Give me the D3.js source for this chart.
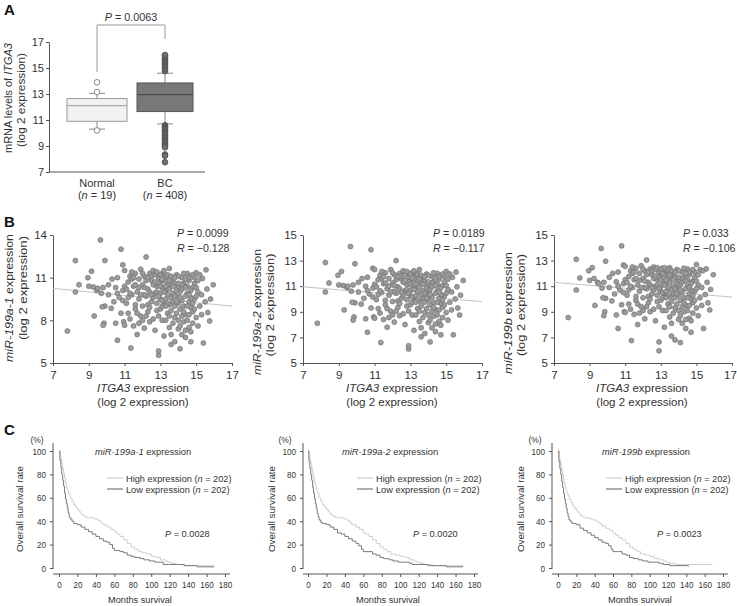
<!DOCTYPE html>
<html>
<head>
<meta charset="utf-8">
<script src="https://cdn.jsdelivr.net/npm/d3@7"></script>
<style>
  body { margin: 0; background: #fff; }
  svg { font-family: "Liberation Sans", Arial, sans-serif; }
</style>
</head>
<body>
<script>
// ---- Panel A: box plot data ----
const boxGroups = ["Normal", "BC"];
const boxN = [19, 408];
const boxQ1 = [10.9, 11.65];
const boxMedian = [12.1, 12.95];
const boxQ3 = [12.65, 13.85];
const whiskLow = [10.3, 10.7];
const whiskHigh = [13.05, 14.6];
const outliersNormal = [13.9, 13.15, 10.2];
const outliersBC = [14.75, 14.9, 15.05, 15.15, 15.25, 15.35, 15.45, 15.55, 15.65, 15.75, 15.85, 15.95, 16.0,
  10.6, 10.5, 10.4, 10.3, 10.2, 10.1, 10.0, 9.9, 9.8, 9.7, 9.6, 9.5, 9.4, 9.3, 9.2, 9.1, 9.0, 8.9, 8.35, 8.25, 7.75];
const yTicksA = [7, 9, 11, 13, 15, 17];

// ---- Panel B: scatter data (ITGA3 vs miR expression) ----
const itga3 = [
  7.8,8.25,8.25,8.45,8.95,9.15,9.0,9.3,9.25,9.45,
  9.65,9.5,9.7,9.8,9.85,9.8,9.9,9.9,9.75,10.1,
  10.1,10.25,10.3,10.4,10.5,10.6,10.5,10.6,10.7,10.8,
  10.9,10.95,11.0,10.8,10.9,11.0,11.1,11.2,11.3,11.35,
  11.3,11.4,11.5,11.5,11.6,11.6,11.7,11.7,11.8,11.8,
  11.9,11.9,12.0,12.0,12.1,12.1,12.2,12.2,12.3,12.3,
  12.4,12.4,12.5,12.5,12.6,12.6,12.7,12.7,12.8,12.8,
  12.9,12.9,12.9,13.0,13.0,13.1,13.1,13.2,13.2,13.3,
  13.3,13.4,13.4,13.5,13.5,13.6,13.6,13.7,13.7,13.8,
  13.8,13.9,13.9,14.0,14.0,14.1,14.1,14.2,14.2,14.3,
  14.3,14.4,14.4,14.5,14.5,14.6,14.6,14.7,14.7,14.8,
  14.8,14.9,14.9,15.0,15.0,15.1,15.2,15.2,15.35,15.4,
  15.5,15.55,15.65,15.75,15.95,15.8,15.6,11.2,11.4,11.6,
  11.8,12.0,12.1,12.2,12.3,12.4,12.5,12.6,12.6,12.7,
  12.8,12.8,12.9,12.9,13.0,13.0,13.0,13.1,13.1,13.2,
  13.2,13.3,13.3,13.4,13.4,13.5,13.5,13.6,13.6,13.7,
  13.7,13.8,13.8,13.9,13.9,14.0,14.0,14.1,14.1,14.2,
  14.2,14.3,14.3,14.4,14.4,14.5,14.5,14.6,14.6,14.7,
  14.7,14.8,14.9,15.0,15.1,15.1,15.3,15.3,11.0,11.3,
  11.5,11.7,11.9,12.1,12.3,12.4,12.5,12.7,12.8,13.0,
  13.1,13.2,13.3,13.4,13.5,13.6,13.7,13.8,13.9,14.0,
  14.1,14.2,14.3,14.4,14.5,14.6,14.7,14.8,14.9,15.0,
  10.6,10.9,11.1,11.2,11.4,11.6,11.8,12.0,12.2,12.9,
  13.1,13.3,13.5,13.6,13.8,14.0,14.2,14.4,14.6,14.8
];
const mir199a1 = [
  7.25,12.2,10.0,10.5,11.0,11.45,10.4,8.3,10.35,10.1,
  13.65,10.25,9.9,10.3,7.8,7.65,12.2,9.0,8.95,9.8,
  10.5,8.85,10.9,9.3,7.8,6.6,10.3,11.0,9.6,13.0,
  11.9,7.9,7.65,8.5,10.1,11.5,9.2,10.7,8.1,6.05,
  11.1,9.8,10.4,7.6,8.8,11.3,10.0,7.0,9.5,10.9,
  8.3,11.6,9.0,10.5,7.45,11.1,12.45,9.7,8.6,10.2,
  11.3,7.9,9.3,10.8,8.1,11.5,9.9,7.3,10.4,8.7,
  5.55,5.85,11.0,9.5,10.7,8.0,11.3,6.9,9.1,10.1,
  11.0,8.5,9.8,11.65,7.5,10.5,6.3,9.3,10.9,8.2,
  6.5,11.2,9.7,7.4,10.3,6.0,8.8,11.0,9.4,7.9,
  10.6,6.8,8.4,11.3,9.9,7.5,10.8,6.5,8.9,10.3,
  7.8,11.0,9.5,11.35,8.2,10.0,11.2,9.0,10.95,6.4,
  9.3,11.55,8.55,7.95,10.5,9.5,10.2,9.6,10.9,9.1,
  10.3,11.3,9.8,10.8,9.1,10.0,11.1,9.6,10.5,11.2,
  9.2,10.0,10.6,8.3,11.2,9.9,8.8,10.3,9.4,10.8,
  10.0,9.5,8.0,10.5,11.2,9.1,10.2,8.7,11.1,9.9,
  7.8,10.6,9.0,10.1,8.5,11.1,9.2,10.0,7.6,8.3,
  10.5,9.0,11.3,9.7,7.3,10.4,8.0,9.3,11.0,10.1,
  7.2,8.6,10.6,9.7,10.8,7.6,9.8,8.4,10.4,9.9,
  11.0,8.5,9.8,10.3,11.0,8.9,9.8,10.7,11.4,10.4,
  9.0,11.5,10.4,9.2,10.8,9.6,10.4,11.0,9.3,10.6,
  9.6,10.2,8.6,10.9,9.0,8.4,9.6,11.2,8.8,10.3,
  9.9,9.4,10.2,8.5,11.4,10.5,7.8,8.0,8.3,9.7,
  10.9,9.0,8.3,7.0,9.7,8.0,7.0,10.3,9.8,9.2
];
const mir199a2 = [
  8.1,12.85,10.55,11.25,11.85,12.15,11.1,9.15,11.05,10.9,
  14.1,11.0,10.6,11.1,8.6,8.35,12.75,9.7,9.75,10.55,
  11.3,9.6,11.6,10.05,8.45,7.4,11.0,11.7,10.4,13.85,
  12.4,8.6,8.5,9.3,10.85,12.3,9.95,11.5,8.9,6.6,
  11.85,10.5,11.2,8.4,9.55,12.05,10.8,7.8,10.3,11.6,
  9.05,12.3,9.8,11.25,8.2,11.9,13.0,10.45,9.35,10.95,
  12.0,8.7,10.05,11.55,8.85,12.2,10.65,8.0,11.15,9.45,
  6.1,6.35,11.75,10.25,11.45,8.75,12.05,7.55,9.85,10.85,
  11.75,9.25,10.55,12.3,8.25,11.25,7.05,10.05,11.65,8.95,
  7.3,11.95,10.45,8.15,11.05,6.65,9.55,11.75,10.15,8.65,
  11.35,7.45,9.15,12.0,10.65,8.25,11.55,7.2,9.65,11.05,
  8.55,11.75,10.25,12.15,8.95,10.75,11.95,9.75,11.7,7.2,
  10.0,12.1,9.3,8.75,11.45,10.3,10.95,10.35,11.6,9.9,
  11.0,12.05,10.6,11.5,9.85,10.8,11.8,10.3,11.3,11.9,
  9.95,10.75,11.35,9.05,11.95,10.65,9.55,11.05,10.15,11.55,
  10.75,10.25,8.75,11.25,11.95,9.85,10.95,9.45,11.85,10.65,
  8.55,11.35,9.75,10.85,9.25,11.85,9.95,10.75,8.35,9.05,
  11.25,9.75,12.05,10.45,8.05,11.15,8.75,10.05,11.75,10.85,
  7.95,9.35,11.35,10.45,11.55,8.35,10.55,9.15,11.15,10.65,
  11.75,9.25,10.55,11.05,11.75,9.65,10.55,11.45,12.15,11.15,
  9.75,12.2,11.15,9.95,11.55,10.35,11.15,11.75,10.05,11.35,
  10.35,10.95,9.35,11.65,9.75,9.15,10.35,11.95,9.55,11.05,
  10.65,10.15,10.95,9.25,12.15,11.25,8.55,8.75,9.05,10.45,
  11.65,9.75,9.05,7.75,10.45,8.75,7.75,11.05,10.55,9.95
];
const mir199b = [
  8.55,13.1,10.7,11.65,12.2,12.45,11.45,9.5,11.6,11.3,
  13.95,11.2,10.85,11.3,9.0,8.7,12.95,10.05,10.1,10.9,
  11.7,9.85,12.0,10.4,8.75,7.7,11.35,12.1,10.7,14.15,
  12.65,9.0,8.95,9.55,11.2,12.55,10.3,11.75,9.2,6.75,
  12.2,10.9,11.5,8.8,9.9,12.4,11.1,8.0,10.6,12.0,
  9.4,12.6,10.1,11.6,8.45,12.2,13.05,10.8,9.7,11.3,
  12.35,9.0,10.4,11.9,9.2,12.5,11.0,8.3,11.5,9.8,
  5.95,6.65,12.1,10.6,11.8,9.1,12.4,7.8,10.2,11.2,
  12.1,9.6,10.9,12.45,8.6,11.6,7.1,10.4,12.0,9.3,
  6.8,12.3,10.8,8.4,11.4,6.6,9.9,12.1,10.5,9.0,
  11.7,7.7,9.5,12.35,11.0,8.5,11.9,7.4,10.0,11.4,
  8.9,12.1,10.6,12.7,9.3,11.1,12.3,10.1,12.2,7.7,
  10.35,12.35,9.7,9.15,11.9,10.75,11.3,10.7,12.0,10.2,
  11.45,12.35,10.9,11.9,10.2,11.1,12.2,10.7,11.6,12.3,
  10.3,11.1,11.7,9.4,12.3,11.0,9.9,11.4,10.5,11.9,
  11.1,10.6,9.1,11.6,12.3,10.2,11.3,9.8,12.2,11.0,
  8.9,11.7,10.1,11.2,9.6,12.2,10.3,11.1,8.7,9.4,
  11.6,10.1,12.4,10.8,8.4,11.5,9.1,10.4,12.1,11.2,
  8.3,9.7,11.7,10.8,11.9,8.7,10.9,9.5,11.5,11.0,
  12.1,9.6,10.9,11.4,12.1,10.0,10.9,11.8,12.45,11.5,
  10.1,12.45,11.5,10.3,11.9,10.7,11.5,12.1,10.4,11.7,
  10.7,11.3,9.7,12.0,10.1,9.5,10.7,12.3,9.9,11.4,
  11.0,10.5,11.3,9.6,12.5,11.6,8.9,9.1,9.4,10.8,
  12.0,10.1,9.4,8.1,10.8,9.1,8.1,11.4,10.9,10.3
];
const fit199a1 = [[7, 10.25], [17, 9.0]];
const fit199a2 = [[7, 10.95], [17, 9.8]];
const fit199b = [[7, 11.3], [17, 10.15]];
const statsB = [["P = 0.0099", "R = \u22120.128"], ["P = 0.0189", "R = \u22120.117"], ["P = 0.033", "R = \u22120.106"]];
const mirNames = ["miR-199a-1", "miR-199a-2", "miR-199b"];
const xTicksB = [7, 9, 11, 13, 15, 17];

// ---- Panel C: Kaplan-Meier curves [months, % surviving] ----
const high199a1 = [[0,100],[1,97],[2,93],[3,89],[4,85],[5,81],[6,77],[7,73],[8,69],[9,66],[10,64],[12,60],[14,57],[16,54],[18,52],[20,50],[22,48],[24,46],[26,45],[28,44],[30,43],[34,43],[38,42],[42,41],[44,40],[46,38],[48,37],[52,35],[56,33],[60,31],[63,29],[66,27],[70,24],[74,21],[78,18],[82,16],[86,14],[90,13],[95,12],[100,10],[105,9],[110,7],[115,6],[118,5],[122,4],[126,3],[135,2],[150,2],[168,1]];
const low199a1 = [[0,100],[1,92],[2,86],[3,80],[4,75],[5,70],[6,64],[7,59],[8,55],[9,51],[10,47],[11,44],[12,42],[14,40],[16,38],[20,37],[24,35],[28,33],[32,31],[36,29],[40,27],[44,25],[48,23],[52,22],[55,20],[58,17],[60,15],[66,14],[70,13],[74,11],[78,10],[82,9],[88,8],[92,7],[98,6],[104,5],[110,5],[113,3],[120,3],[130,3],[136,2],[150,1],[168,1]];
const high199a2 = [[0,100],[1,97],[2,93],[3,89],[4,85],[5,81],[6,77],[7,73],[8,70],[9,67],[10,64],[12,60],[14,57],[16,54],[18,52],[20,50],[22,48],[24,46],[26,45],[28,44],[30,43],[34,43],[38,42],[42,41],[44,40],[46,38],[48,37],[52,35],[56,33],[60,30],[63,29],[66,27],[70,24],[74,21],[78,18],[82,16],[86,14],[90,12],[95,11],[100,10],[105,9],[110,7],[115,6],[118,5],[122,4],[126,3],[135,2],[150,2],[168,1]];
const low199a2 = [[0,100],[1,91],[2,85],[3,80],[4,75],[5,69],[6,64],[7,59],[8,55],[9,51],[10,47],[11,44],[12,41],[14,39],[16,38],[20,37],[24,35],[28,33],[32,30],[36,29],[40,27],[44,25],[48,23],[52,21],[55,19],[58,16],[60,14],[66,14],[70,12],[74,11],[78,9],[82,8],[88,7],[92,6],[98,5],[104,5],[110,4],[113,3],[120,3],[130,2],[140,2],[150,1],[168,1]];
const high199b = [[0,100],[1,96],[2,92],[3,88],[4,84],[5,80],[6,76],[7,72],[8,69],[9,66],[10,63],[12,59],[14,56],[16,53],[18,51],[20,49],[22,47],[24,45],[26,44],[28,43],[30,43],[34,42],[38,41],[42,40],[44,39],[46,38],[48,36],[52,34],[56,32],[60,30],[63,28],[66,26],[70,24],[74,21],[78,18],[82,16],[86,14],[90,12],[95,11],[100,10],[105,8],[110,7],[115,6],[118,5],[122,4],[128,3],[140,3],[168,2]];
const low199b = [[0,100],[1,91],[2,85],[3,80],[4,74],[5,69],[6,64],[7,59],[8,55],[9,51],[10,47],[11,44],[12,41],[14,39],[16,38],[20,37],[24,34],[28,32],[32,30],[36,28],[40,26],[44,24],[48,22],[52,21],[55,19],[58,16],[60,14],[66,14],[70,12],[74,11],[78,9],[82,8],[88,7],[92,6],[98,5],[104,5],[110,4],[115,3],[122,2],[130,2],[142,1]];
const pValuesC = ["P = 0.0028", "P = 0.0020", "P = 0.0023"];
const xTicksC = [0, 20, 40, 60, 80, 100, 120, 140, 160, 180];
const yTicksC = [0, 20, 40, 60, 80, 100];

const ink = "#333";
const axisCol = "#555";

const svg = d3.select("body").append("svg")
  .attr("width", 737)
  .attr("height", 606);

function styleAxis(g) {
  g.selectAll("path, line").attr("stroke", axisCol);
  g.selectAll("text").attr("fill", ink).attr("font-family", null);
}

// squeeze or stretch text along its baseline
function fitLen(sel, len) {
  sel.attr("textLength", len).attr("lengthAdjust", "spacingAndGlyphs");
}
function condense(sel, f) {
  sel.each(function () {
    const L = this.getComputedTextLength();
    d3.select(this).attr("textLength", L * f).attr("lengthAdjust", "spacingAndGlyphs");
  });
}

// rotated two-line axis title, first line with an italic part
function rotTitle(x1, x2, cy1, cy2, len1, len2, italicPart, before, after) {
  const t = svg.append("text")
    .attr("transform", `translate(${x1},${cy1}) rotate(-90)`)
    .attr("text-anchor", "middle")
    .attr("font-size", 11)
    .attr("fill", ink);
  if (before) t.append("tspan").text(before);
  t.append("tspan").attr("font-style", "italic").text(italicPart);
  t.append("tspan").text(after);
  fitLen(t, len1);
  const t2 = svg.append("text")
    .attr("transform", `translate(${x2},${cy2}) rotate(-90)`)
    .attr("text-anchor", "middle")
    .attr("font-size", 11)
    .attr("fill", ink)
    .text("(log 2 expression)");
  fitLen(t2, len2);
}

function panelLetter(txt, y) {
  svg.append("text").text(txt)
    .attr("x", 4).attr("y", y)
    .attr("font-size", 15).attr("font-weight", "bold").attr("fill", "#111");
}

// ================= Panel A =================
panelLetter("A", 15);
const yA = d3.scaleLinear().domain([7, 17]).range([172, 42]);
const xA = d3.scalePoint().domain(boxGroups).range([97, 165]);
const boxW = [60, 56];

svg.append("g")
  .attr("transform", "translate(49,0)")
  .call(d3.axisLeft(yA).tickValues(yTicksA).tickSizeInner(3).tickSizeOuter(0).tickPadding(2))
  .attr("font-size", 11)
  .call(styleAxis);
svg.append("line").attr("x1", 49).attr("x2", 205).attr("y1", 172).attr("y2", 172).attr("stroke", axisCol);

rotTitle(12, 25, 98, 100, 110, 94, "ITGA3", "mRNA levels of ", "");

boxGroups.forEach((gname, i) => {
  const cx = xA(gname);
  const w = boxW[i];
  const lineCol = i === 0 ? "#999" : "#555";
  // whiskers
  svg.append("line").attr("x1", cx).attr("x2", cx)
    .attr("y1", yA(whiskLow[i])).attr("y2", yA(boxQ1[i])).attr("stroke", "#888");
  svg.append("line").attr("x1", cx).attr("x2", cx)
    .attr("y1", yA(boxQ3[i])).attr("y2", yA(whiskHigh[i])).attr("stroke", "#888");
  [whiskLow[i], whiskHigh[i]].forEach(v => {
    svg.append("line").attr("x1", cx - 8).attr("x2", cx + 8)
      .attr("y1", yA(v)).attr("y2", yA(v)).attr("stroke", "#888");
  });
  svg.append("rect")
    .attr("x", cx - w / 2).attr("width", w)
    .attr("y", yA(boxQ3[i])).attr("height", yA(boxQ1[i]) - yA(boxQ3[i]))
    .attr("fill", i === 0 ? "#f2f2f2" : "#787878")
    .attr("stroke", lineCol);
  svg.append("line").attr("x1", cx - w / 2).attr("x2", cx + w / 2)
    .attr("y1", yA(boxMedian[i])).attr("y2", yA(boxMedian[i]))
    .attr("stroke", i === 0 ? "#999" : "#444");
  // category labels
  svg.append("text").text(gname)
    .attr("x", cx).attr("y", 187).attr("text-anchor", "middle")
    .attr("font-size", 11).attr("fill", ink);
  const nl = svg.append("text").attr("x", cx).attr("y", 199)
    .attr("text-anchor", "middle").attr("font-size", 11).attr("fill", ink);
  nl.append("tspan").text("(");
  nl.append("tspan").attr("font-style", "italic").text("n");
  nl.append("tspan").text(" = " + boxN[i] + ")");
});

svg.selectAll(".outN").data(outliersNormal).enter().append("circle")
  .attr("cx", xA("Normal")).attr("cy", d => yA(d)).attr("r", 2.8)
  .attr("fill", "#fff").attr("stroke", "#888");
svg.selectAll(".outBC").data(outliersBC).enter().append("circle")
  .attr("cx", xA("BC")).attr("cy", d => yA(d)).attr("r", 2.8)
  .attr("fill", "#6f6f6f").attr("stroke", "#555");

// significance bracket
svg.append("path")
  .attr("d", `M${xA("Normal")},72 V25 H${xA("BC")} V39`)
  .attr("fill", "none").attr("stroke", "#999");
const pA = svg.append("text").attr("x", 131).attr("y", 21)
  .attr("text-anchor", "middle").attr("font-size", 10.8).attr("fill", ink);
pA.append("tspan").attr("font-style", "italic").text("P");
pA.append("tspan").text(" = 0.0063");

// ================= Panel B =================
panelLetter("B", 227);
const scatterLayout = [
  { x0: 53, x1: 232, yMax: 14, yTicks: [5, 8, 11, 14], ys: mir199a1, fit: fit199a1, tx: [13, 27], cy: [298, 288], len: [128, 104], statX: 177, xTitle: 143 },
  { x0: 303, x1: 482, yMax: 15, yTicks: [5, 7, 9, 11, 13, 15], ys: mir199a2, fit: fit199a2, tx: [261, 274], cy: [312, 305], len: [126, 103], statX: 433, xTitle: 392 },
  { x0: 554, x1: 732, yMax: 15, yTicks: [5, 7, 9, 11, 13, 15], ys: mir199b, fit: fit199b, tx: [512, 525], cy: [313, 305], len: [122, 102], statX: 683, xTitle: 642 }
];

scatterLayout.forEach((p, k) => {
  const x = d3.scaleLinear().domain([7, 17]).range([p.x0, p.x1]);
  const y = d3.scaleLinear().domain([5, p.yMax]).range([363, 235]);

  svg.append("g").attr("transform", `translate(${p.x0},0)`)
    .call(d3.axisLeft(y).tickValues(p.yTicks).tickSizeInner(3).tickSizeOuter(0).tickPadding(3))
    .attr("font-size", 11.5).call(styleAxis);
  const xg = svg.append("g").attr("transform", "translate(0,363)")
    .call(d3.axisBottom(x).tickValues(xTicksB).tickSizeInner(3).tickSizeOuter(0).tickPadding(5))
    .attr("font-size", 11.5).call(styleAxis);
  // keep the last label inside the page on the right-hand panel
  if (p.x1 > 720) xg.selectAll(".tick text").filter(d => d === 17).attr("dx", "-2");

  svg.append("line")
    .attr("x1", x(p.fit[0][0])).attr("y1", y(p.fit[0][1]))
    .attr("x2", x(p.fit[1][0])).attr("y2", y(p.fit[1][1]))
    .attr("stroke", "#c4c4c4").attr("stroke-width", 1);

  svg.append("g").selectAll("circle")
    .data(itga3.map((v, i) => [v, p.ys[i]]))
    .enter().append("circle")
    .attr("cx", d => x(d[0]))
    .attr("cy", d => y(d[1]))
    .attr("r", 2.5)
    .attr("fill", "#9c9c9c")
    .attr("stroke", "#6a6a6a")
    .attr("stroke-width", 0.6);

  statsB[k].forEach((s, j) => {
    const t = svg.append("text").attr("x", p.statX).attr("y", 237 + j * 15)
      .attr("font-size", 10.6).attr("fill", ink);
    t.append("tspan").attr("font-style", "italic").text(s.slice(0, 1));
    t.append("tspan").text(s.slice(1));
  });

  rotTitle(p.tx[0], p.tx[1], p.cy[0], p.cy[1], p.len[0], p.len[1], mirNames[k], "", " expression");

  const xt = svg.append("text").attr("x", p.xTitle).attr("y", 392)
    .attr("text-anchor", "middle").attr("font-size", 11.5).attr("fill", ink);
  xt.append("tspan").attr("font-style", "italic").text("ITGA3");
  xt.append("tspan").text(" expression");
  svg.append("text").attr("x", p.xTitle).attr("y", 406)
    .attr("text-anchor", "middle").attr("font-size", 11.5).attr("fill", ink)
    .text("(log 2 expression)");
});

// ================= Panel C =================
panelLetter("C", 435);
const survLayout = [
  { ax: 53, x0: 59, x1: 225, xEnd: 230, high: high199a1, low: low199a1, titleX: 95, legX: 107, pX: 165, pctX: 37, ttlX: 23, msX: 140 },
  { ax: 303, x0: 308, x1: 474, xEnd: 478, high: high199a2, low: low199a2, titleX: 342, legX: 357, pX: 413, pctX: 285, ttlX: 275, msX: 388 },
  { ax: 552, x0: 558, x1: 723, xEnd: 728, high: high199b, low: low199b, titleX: 602, legX: 606, pX: 657, pctX: 535, ttlX: 524, msX: 640 }
];

survLayout.forEach((p, k) => {
  const x = d3.scaleLinear().domain([0, 180]).range([p.x0, p.x1]);
  const y = d3.scaleLinear().domain([0, 100]).range([568, 451]);

  const ya = svg.append("g").attr("transform", `translate(${p.ax},0)`)
    .call(d3.axisLeft(y).tickValues(yTicksC).tickSizeInner(3).tickSizeOuter(0).tickPadding(4))
    .attr("font-size", 9.5).call(styleAxis);
  ya.select(".domain").remove();
  condense(ya.selectAll("text"), 0.85);
  svg.append("line").attr("x1", p.ax).attr("x2", p.ax).attr("y1", 443).attr("y2", 569).attr("stroke", axisCol);

  const xa = svg.append("g").attr("transform", "translate(0,574)")
    .call(d3.axisBottom(x).tickValues(xTicksC).tickSizeInner(3).tickSizeOuter(0).tickPadding(4))
    .attr("font-size", 9.5).call(styleAxis);
  xa.select(".domain").remove();
  condense(xa.selectAll("text"), 0.85);
  svg.append("line").attr("x1", p.ax).attr("x2", p.xEnd).attr("y1", 574).attr("y2", 574).attr("stroke", axisCol);

  const line = d3.line().x(d => x(d[0])).y(d => y(d[1])).curve(d3.curveStepAfter);
  svg.append("path").datum(p.high).attr("d", line)
    .attr("fill", "none").attr("stroke", "#cfcfcf").attr("stroke-width", 1);
  svg.append("path").datum(p.low).attr("d", line)
    .attr("fill", "none").attr("stroke", "#7a7a7a").attr("stroke-width", 1);

  svg.append("text").text("(%)").attr("x", p.pctX).attr("y", 443)
    .attr("text-anchor", "middle").attr("font-size", 8.5).attr("fill", ink);
  const ost = svg.append("text").text("Overall survival rate")
    .attr("transform", `translate(${p.ttlX},509) rotate(-90)`)
    .attr("text-anchor", "middle").attr("font-size", 9.8).attr("fill", ink);
  fitLen(ost, 86);
  svg.append("text").text("Months survival")
    .attr("x", p.msX).attr("y", 603).attr("text-anchor", "middle")
    .attr("font-size", 9.2).attr("fill", ink);

  const tt = svg.append("text").attr("x", p.titleX).attr("y", 455)
    .attr("font-size", 9.3).attr("fill", ink);
  tt.append("tspan").attr("font-style", "italic").text(mirNames[k]);
  tt.append("tspan").text(" expression");

  const legend = [["High expression", "#cfcfcf", 478], ["Low expression", "#7a7a7a", 489]];
  legend.forEach(l => {
    svg.append("line").attr("x1", p.legX).attr("x2", p.legX + 16)
      .attr("y1", l[2]).attr("y2", l[2]).attr("stroke", l[1]).attr("stroke-width", 1.2);
    const lt = svg.append("text").attr("x", p.legX + 19).attr("y", l[2] + 3.5)
      .attr("font-size", 9.2).attr("fill", ink);
    lt.append("tspan").text(l[0] + " (");
    lt.append("tspan").attr("font-style", "italic").text("n");
    lt.append("tspan").text(" = 202)");
  });

  const pt = svg.append("text").attr("x", p.pX).attr("y", 537)
    .attr("font-size", 9.2).attr("fill", ink);
  pt.append("tspan").attr("font-style", "italic").text("P");
  pt.append("tspan").text(pValuesC[k].slice(1));
});
</script>
</body>
</html>
